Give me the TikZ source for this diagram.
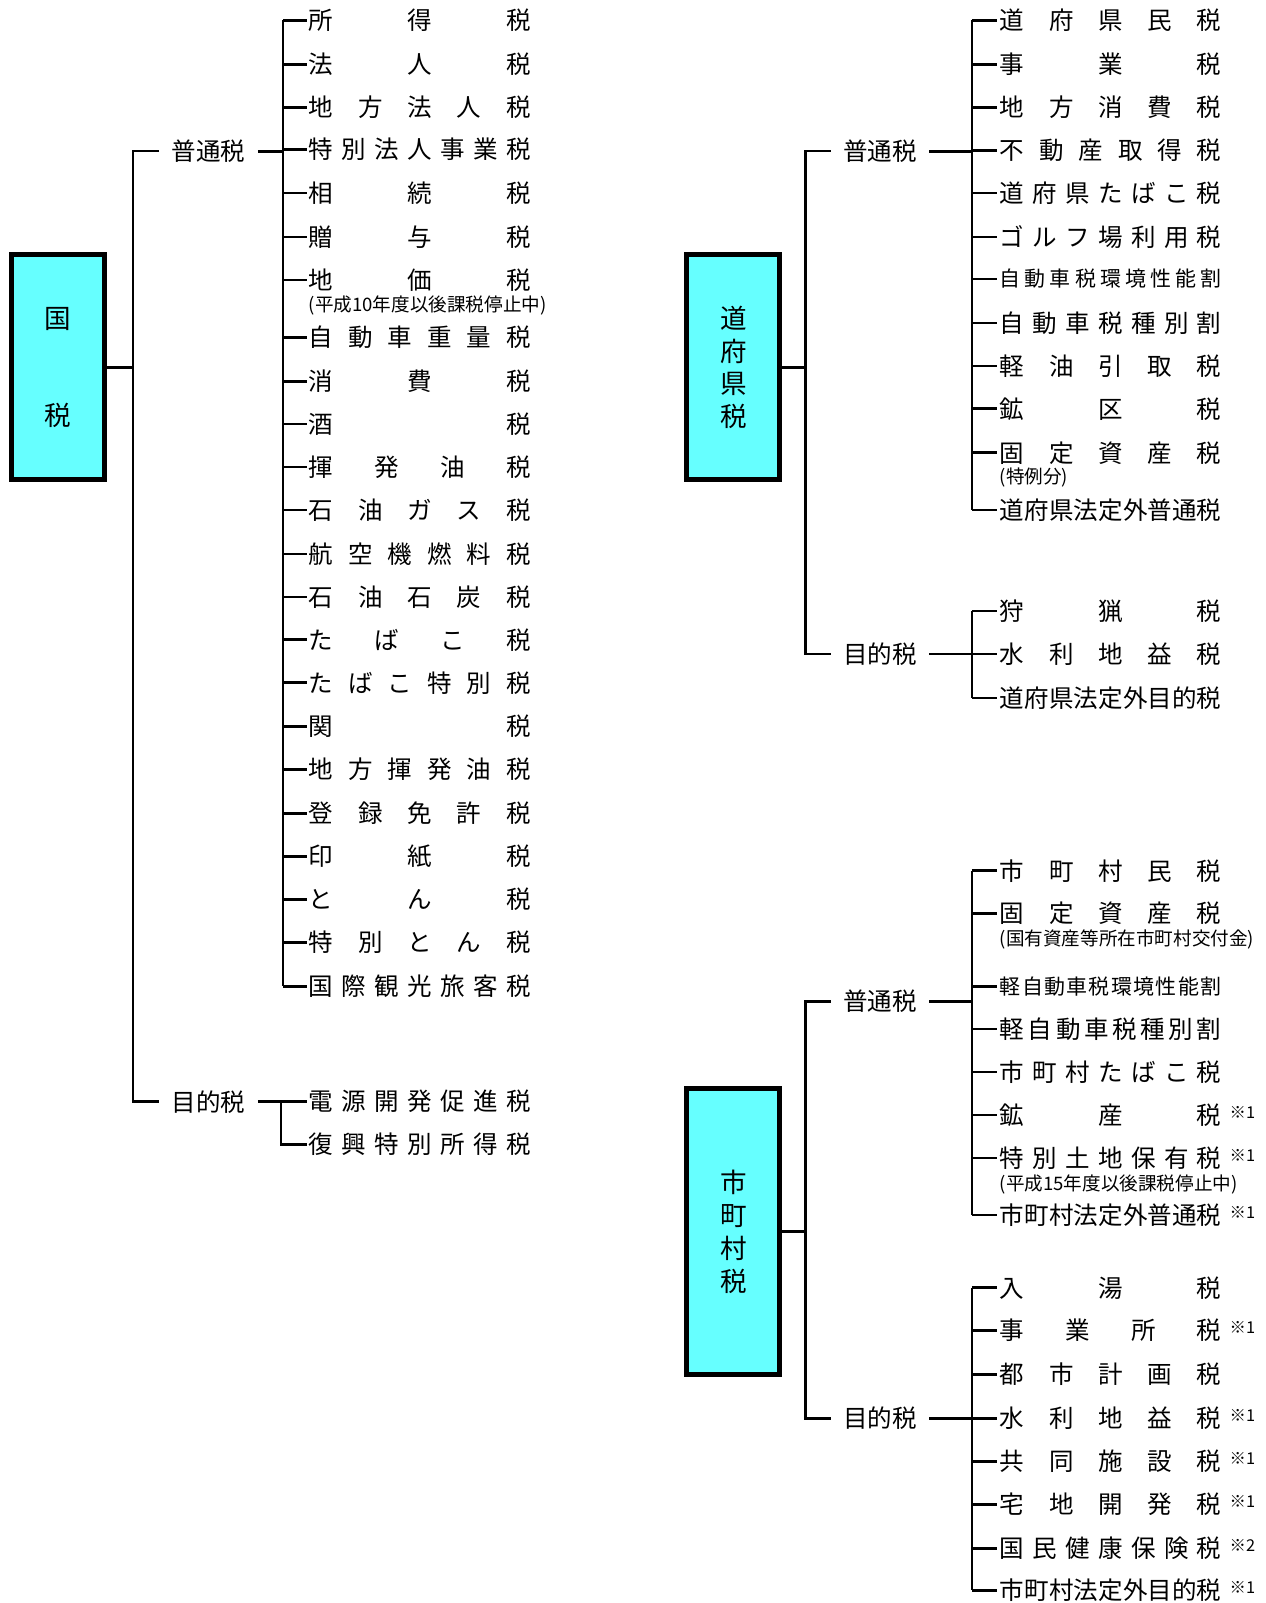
\documentclass[tikz,border=0pt]{standalone}
\usepackage{fontspec}
\setmainfont{Noto Sans CJK JP}
\newcommand\negfill{\hskip 0pt plus -1fill}
\ExplSyntaxOn
\tl_new:N \l_dist_tl
\NewDocumentCommand\dist{mm}{\tl_set:Nx \l_dist_tl {#2}\makebox[#1][s]{\tl_map_inline:Nn \l_dist_tl {##1\hfill}\negfill}}
\ExplSyntaxOff
\newcommand\fsz[1]{\fontsize{#1}{#1}\selectfont}
\newcommand\kome[1]{\hspace{8pt}\raisebox{6pt}[0pt][0pt]{\fsz{16}※#1}}
\definecolor{boxcyan}{RGB}{102,255,255}
\tikzset{
  taxbox/.style={draw=black, line width=4.9pt, fill=boxcyan, minimum width=91pt, inner sep=0pt, align=center},
  cat/.style={inner xsep=12pt, inner ysep=0pt, font=\fsz{24}},
  item/.style={anchor=west, inner sep=0pt, font=\fsz{24}},
  itemsm/.style={anchor=west, inner sep=0pt, font=\fsz{20.5}},
  note/.style={anchor=west, inner sep=0pt, font=\fsz{18.2}},
  trunk/.style={line width=2.4pt},
  tick/.style={line width=2.6pt},
}
\begin{document}
\begin{tikzpicture}[x=1pt,y=-1pt]
\useasboundingbox (0,0) rectangle (1238.7,1568.5);
% ---------- 国税 ----------
\node[taxbox, minimum height=220pt, font=\fontsize{26}{95}\selectfont] (kokuzei) at (57,359.5) {国\\税};
\coordinate (TL0) at (130,0);
\coordinate (TL) at (277,0);
\coordinate (TL2) at (275,0);
\node[cat] (Lfutsu) at (204,148) {普通税};
\node[cat] (Lmoku) at (204,1078) {目的税};
\draw[trunk] (Lfutsu.west) -- (Lfutsu.west -| TL0) -- (Lmoku.west -| TL0) -- (Lmoku.west);
\draw[trunk] (kokuzei.east) -- (kokuzei.east -| TL0);
\foreach \n/\y/\txt in {L1/20/所得税, L2/63/法人税, L3/105/地方法人税, L4/146/特別法人事業税,
  L5/189/相続税, L6/232/贈与税, L7/274/地価税, L8/330/自動車重量税, L9/373/消費税,
  L10/415/酒税, L11/457/揮発油税, L12/499/石油ガス税, L13/542/航空機燃料税, L14/584/石油石炭税,
  L15/626/たばこ税, L16/668/たばこ特別税, L17/711/関税, L18/753/地方揮発油税, L19/796/登録免許税,
  L20/838/印紙税, L21/880/とん税, L22/922/特別とん税, L23/965/国際観光旅客税,
  L24/1078/電源開発促進税, L25/1120/復興特別所得税}{
  \node[item] (\n) at (302,\y) {\dist{217pt}{\txt}};
}
\node[note] (L7n) at (302,299) {(平成10年度以後課税停止中)};
\draw[tick] (L1.west -| TL) -- (L23.west -| TL);
\draw[tick] (Lfutsu.east) -- (Lfutsu.east -| TL);
\foreach \n in {L1,L2,L3,L4,L5,L6,L7,L8,L9,L10,L11,L12,L13,L14,L15,L16,L17,L18,L19,L20,L21,L22,L23}{
  \draw[tick] (\n.west -| TL) -- ([xshift=-2pt]\n.west);
}
\draw[tick] (Lmoku.east) -- ([xshift=-2pt]L24.west);
\draw[tick] (L24.west -| TL2) -- (L25.west -| TL2) -- ([xshift=-2pt]L25.west);
% ---------- 道府県税 ----------
\node[taxbox, minimum height=220pt, font=\fontsize{26}{31.7}\selectfont] (dofuken) at (717.5,359.5) {道\\府\\県\\税};
\coordinate (TR0) at (788,0);
\coordinate (TR) at (951,0);
\node[cat] (Rfutsu) at (861,148) {普通税};
\node[cat] (Rmoku) at (861,640) {目的税};
\draw[trunk] (Rfutsu.west) -- (Rfutsu.west -| TR0) -- (Rmoku.west -| TR0) -- (Rmoku.west);
\draw[trunk] (dofuken.east) -- (dofuken.east -| TR0);
\foreach \n/\y/\txt in {R1/20/道府県民税, R2/63/事業税, R3/105/地方消費税, R4/147/不動産取得税,
  R5/189/道府県たばこ税, R6/232/ゴルフ場利用税, R8/316/自動車税種別割, R9/358/軽油引取税,
  R10/400/鉱区税, R11/443/固定資産税, R12/499/道府県法定外普通税,
  R13/598/狩猟税, R14/640/水利地益税, R15/683/道府県法定外目的税}{
  \node[item] (\n) at (978,\y) {\dist{217pt}{\txt}};
}
\node[itemsm] (R7) at (978,273) {\dist{217pt}{自動車税環境性能割}};
\node[note] (R11n) at (978,467) {(特例分)};
\draw[tick] (R1.west -| TR) -- (R12.west -| TR);
\draw[tick] (Rfutsu.east) -- (Rfutsu.east -| TR);
\foreach \n in {R1,R2,R3,R4,R5,R6,R7,R8,R9,R10,R11,R12}{
  \draw[tick] (\n.west -| TR) -- ([xshift=-2pt]\n.west);
}
\draw[tick] (R13.west -| TR) -- (R15.west -| TR);
\draw[tick] (Rmoku.east) -- (Rmoku.east -| TR);
\foreach \n in {R13,R14,R15}{
  \draw[tick] (\n.west -| TR) -- ([xshift=-2pt]\n.west);
}
% ---------- 市町村税 ----------
\node[taxbox, minimum height=279pt, font=\fontsize{26}{32.3}\selectfont] (shichoson) at (717.5,1205) {市\\町\\村\\税};
\node[cat] (Sfutsu) at (861,980) {普通税};
\node[cat] (Smoku) at (861,1388) {目的税};
\draw[trunk] (Sfutsu.west) -- (Sfutsu.west -| TR0) -- (Smoku.west -| TR0) -- (Smoku.west);
\draw[trunk] (shichoson.east) -- (shichoson.east -| TR0);
\foreach \n/\y/\txt/\k in {S1/852/市町村民税/, S2/894/固定資産税/, S4/1007/軽自動車税種別割/,
  S5/1049/市町村たばこ税/, S6/1091/鉱産税/1, S7/1133/特別土地保有税/1, S8/1189/市町村法定外普通税/1,
  S9/1260/入湯税/, S10/1302/事業所税/1, S11/1345/都市計画税/, S12/1388/水利地益税/1,
  S13/1430/共同施設税/1, S14/1472/宅地開発税/1, S15/1515/国民健康保険税/2, S16/1556/市町村法定外目的税/1}{
  \node[item] (\n) at (978,\y) {\dist{217pt}{\txt}\ifx\k\empty\else\kome{\k}\fi};
}
\node[itemsm] (S3) at (978,965) {\dist{217pt}{軽自動車税環境性能割}};
\node[note] (S2n) at (978,919) {(国有資産等所在市町村交付金)};
\node[note] (S7n) at (978,1159) {(平成15年度以後課税停止中)};
\draw[tick] (S1.west -| TR) -- (S8.west -| TR);
\draw[tick] (Sfutsu.east) -- (Sfutsu.east -| TR);
\foreach \n in {S1,S2,S3,S4,S5,S6,S7,S8}{
  \draw[tick] (\n.west -| TR) -- ([xshift=-2pt]\n.west);
}
\draw[tick] (S9.west -| TR) -- (S16.west -| TR);
\draw[tick] (Smoku.east) -- (Smoku.east -| TR);
\foreach \n in {S9,S10,S11,S12,S13,S14,S15,S16}{
  \draw[tick] (\n.west -| TR) -- ([xshift=-2pt]\n.west);
}
\end{tikzpicture}
\end{document}
